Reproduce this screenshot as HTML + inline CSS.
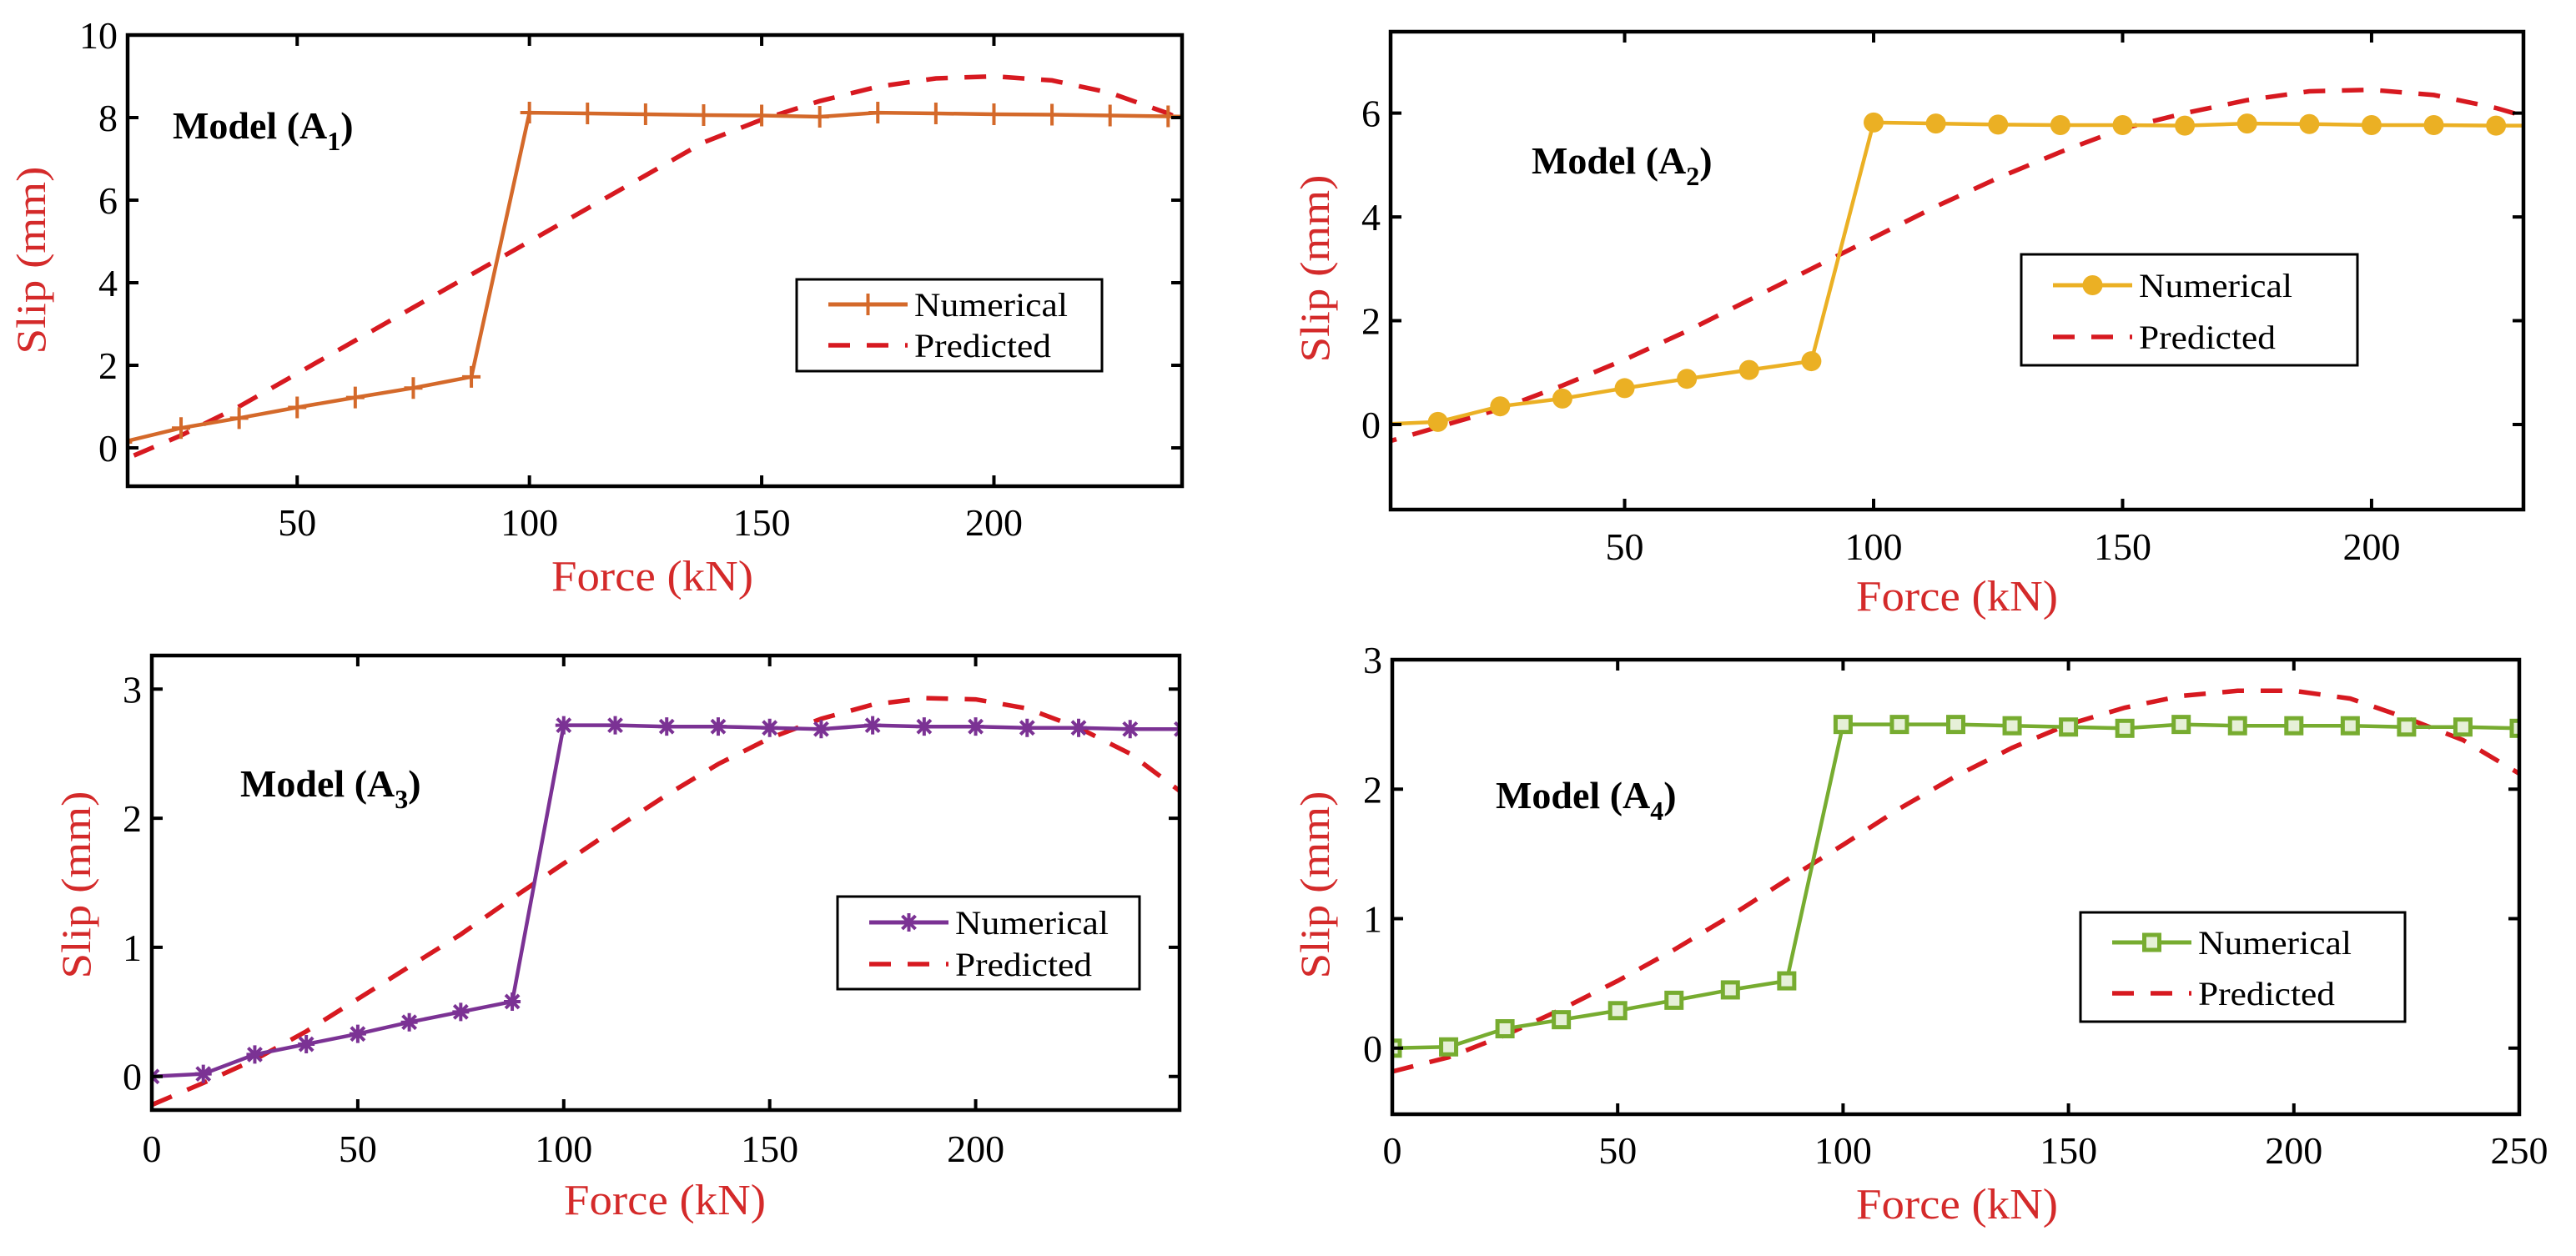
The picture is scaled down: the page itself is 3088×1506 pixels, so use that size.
<!DOCTYPE html>
<html><head><meta charset="utf-8"><style>
html,body{margin:0;padding:0;background:#fff;}
svg{display:block;}
text{font-family:"Liberation Serif",serif;}
</style></head><body>
<svg id="chart" width="3088" height="1506" viewBox="0 0 3088 1506" xmlns="http://www.w3.org/2000/svg">
<rect width="3088" height="1506" fill="#fff"/>
</svg>
<script>
const forceX = [0,12.5,25,37.5,50,62.5,75,87.5,100,112.5,125,137.5,150,162.5,175,187.5,200,212.5,225,237.5,250];
const a1Numerical = [null,0.14,0.48,0.72,0.98,1.22,1.45,1.72,8.12,8.10,8.08,8.06,8.05,8.02,8.12,8.10,8.08,8.07,8.05,8.03,8.00];
const a1Predicted = [-1.0,-0.3,0.3,1.0,1.8,2.6,3.4,4.2,5.0,5.8,6.6,7.4,7.95,8.4,8.75,8.95,9.0,8.9,8.6,8.1,7.4];
const a2Numerical = [0,0.05,0.35,0.5,0.7,0.88,1.05,1.22,5.82,5.8,5.78,5.77,5.77,5.76,5.8,5.79,5.77,5.77,5.76,5.76,5.76];
const a2Predicted = [-0.4,-0.05,0.3,0.75,1.25,1.8,2.4,3.0,3.6,4.2,4.75,5.25,5.7,6.0,6.25,6.42,6.45,6.35,6.1,5.75,5.3];
const a3Numerical = [0,0.02,0.17,0.25,0.33,0.42,0.5,0.58,2.72,2.72,2.71,2.71,2.7,2.69,2.72,2.71,2.71,2.7,2.7,2.69,2.69];
const a3Predicted = [-0.22,-0.05,0.13,0.35,0.6,0.85,1.1,1.38,1.65,1.92,2.18,2.42,2.62,2.77,2.88,2.93,2.92,2.85,2.7,2.5,2.2];
const a4Numerical = [0,0.01,0.15,0.22,0.29,0.37,0.45,0.52,2.5,2.5,2.5,2.49,2.48,2.47,2.5,2.49,2.49,2.49,2.48,2.48,2.47];
const a4Predicted = [-0.18,-0.07,0.1,0.3,0.52,0.76,1.02,1.3,1.57,1.85,2.1,2.32,2.5,2.63,2.72,2.76,2.76,2.7,2.55,2.38,2.12];
const a1XTicks = [50,100,150,200];
const a1YTicks = [0,2,4,6,8,10];
const a2XTicks = [50,100,150,200];
const a2YTicks = [0,2,4,6];
const a3XTicks = [0,50,100,150,200];
const a3YTicks = [0,1,2,3];
const a4XTicks = [0,50,100,150,200,250];
const a4YTicks = [0,1,2,3];

const NS="http://www.w3.org/2000/svg";
const svg=document.getElementById('chart');
function el(tag,attrs,parent){const e=document.createElementNS(NS,tag);for(const k in attrs)e.setAttribute(k,attrs[k]);(parent||svg).appendChild(e);return e;}

const panels=[
 {id:'a1',sub:'1',L:153,R:1417,T:42,B:583,xmin:13.5,xmax:240.5,ymin:-0.93,ymax:10,xt:a1XTicks,yt:a1YTicks,num:a1Numerical,pred:a1Predicted,color:'#d4692a',marker:'plus',
  legend:{x1:955,x2:1321,y1:335,y2:445,ny:365,py:414},model:{x:207,y:166},ylab:{x:54,y:312},xlab:{x:782,y:708},tickY:642},
 {id:'a2',sub:'2',L:1667,R:3025,T:38,B:611,xmin:3,xmax:230.5,ymin:-1.64,ymax:7.57,xt:a2XTicks,yt:a2YTicks,num:a2Numerical,pred:a2Predicted,color:'#ebb024',marker:'circle',
  legend:{x1:2423,x2:2826,y1:305,y2:438,ny:342,py:404},model:{x:1836,y:208},ylab:{x:1593,y:322},xlab:{x:2346,y:732},tickY:671},
 {id:'a3',sub:'3',L:182,R:1414,T:786,B:1331,xmin:0,xmax:249.5,ymin:-0.26,ymax:3.26,xt:a3XTicks,yt:a3YTicks,num:a3Numerical,pred:a3Predicted,color:'#7b3294',marker:'star',
  legend:{x1:1004,x2:1366,y1:1075,y2:1186,ny:1106,py:1156},model:{x:288,y:955},ylab:{x:108,y:1061},xlab:{x:797,y:1456},tickY:1393},
 {id:'a4',sub:'4',L:1669,R:3020,T:791,B:1336,xmin:0,xmax:250,ymin:-0.51,ymax:3,xt:a4XTicks,yt:a4YTicks,num:a4Numerical,pred:a4Predicted,color:'#77ac30',marker:'square',
  legend:{x1:2494,x2:2883,y1:1094,y2:1225,ny:1130,py:1191},model:{x:1793,y:969},ylab:{x:1593,y:1061},xlab:{x:2346,y:1461},tickY:1395}
];

function drawMarker(g,type,x,y,c){
  if(type==='plus'){
    const m=el('path',{d:`M${x-11},${y}H${x+11}M${x},${y-13}V${y+13}`,stroke:c,'stroke-width':4,fill:'none'},g);
    
  }else if(type==='circle'){
    const m=el('circle',{cx:x,cy:y,r:12,fill:c},g);
    
  }else if(type==='star'){
    const m=el('path',{d:`M${x-10},${y}H${x+10}M${x},${y-11}V${y+11}M${x-8},${y-8}L${x+8},${y+8}M${x-8},${y+8}L${x+8},${y-8}`,stroke:c,'stroke-width':4,fill:'none'},g);
    
  }else{
    const m=el('rect',{x:x-9,y:y-9,width:18,height:18,fill:'#e6f0d8',stroke:c,'stroke-width':5},g);
    
  }
}

panels.forEach(p=>{
  const g=el('g',{});
  
  
  const sx=v=>p.L+(v-p.xmin)/(p.xmax-p.xmin)*(p.R-p.L);
  const sy=v=>p.B-(v-p.ymin)/(p.ymax-p.ymin)*(p.B-p.T);
  const clipId='clip-'+p.id;
  const cp=el('clipPath',{id:clipId},g);el('rect',{x:p.L,y:p.T,width:p.R-p.L,height:p.B-p.T},cp);
  const plot=el('g',{'clip-path':`url(#${clipId})`},g);
  
  
  let d='';p.pred.forEach((v,i)=>{d+=(i?'L':'M')+sx(forceX[i]).toFixed(1)+','+sy(v).toFixed(1);});
  const pl=el('path',{d:d,fill:'none',stroke:'#d71920','stroke-width':5.5,'stroke-dasharray':'26 20'},plot);
  
  
  let d2='';let first=true;p.num.forEach((v,i)=>{if(v===null)return;d2+=(first?'M':'L')+sx(forceX[i]).toFixed(1)+','+sy(v).toFixed(1);first=false;});
  const nl=el('path',{d:d2,fill:'none',stroke:p.color,'stroke-width':4.5,'stroke-linejoin':'round'},plot);
  
  
  p.num.forEach((v,i)=>{if(v===null)return;drawMarker(plot,p.marker,sx(forceX[i]),sy(v),p.color);});
  p.xt.forEach(t=>{const x=sx(t);
    el('path',{d:`M${x},${p.B}v-13M${x},${p.T}v13`,stroke:'#000','stroke-width':4},g);
    const s=String(t);
    const tl=el('text',{x:x,y:p.tickY,'font-size':46,'text-anchor':'middle',textLength:s.length*23,lengthAdjust:'spacingAndGlyphs'},g);tl.textContent=s;
    
    
  });
  p.yt.forEach(t=>{const y=sy(t);
    el('path',{d:`M${p.L},${y}h13M${p.R},${y}h-13`,stroke:'#000','stroke-width':4},g);
    const s=String(t);
    const tl=el('text',{x:p.L-12,y:y+16,'font-size':46,'text-anchor':'end',textLength:s.length*23,lengthAdjust:'spacingAndGlyphs'},g);tl.textContent=s;
    
    
  });
  const fr=el('rect',{x:p.L,y:p.T,width:p.R-p.L,height:p.B-p.T,fill:'none',stroke:'#000','stroke-width':4.5},g);
  
  
  const xl=el('text',{x:p.xlab.x,y:p.xlab.y,'font-size':52,'text-anchor':'middle',fill:'#d42a2a',textLength:242,lengthAdjust:'spacingAndGlyphs'},g);xl.textContent='Force (kN)';
  
  
  const yl=el('text',{x:p.ylab.x,y:p.ylab.y,'font-size':50,'text-anchor':'middle',fill:'#d42a2a',transform:`rotate(-90 ${p.ylab.x} ${p.ylab.y})`,'font-family':'Liberation Sans, sans-serif',textLength:225,lengthAdjust:'spacingAndGlyphs'},g);yl.textContent='Slip (mm)';
  
  
  const ml=el('text',{x:p.model.x,y:p.model.y,'font-size':46,'font-weight':'bold'},g);
  
  
  ml.appendChild(document.createTextNode('Model (A'));
  const ts=el('tspan',{'font-size':32,dy:14},ml);ts.textContent=p.sub;
  const ts2=el('tspan',{dy:-14},ml);ts2.textContent=')';
  const L=p.legend;
  const lg=el('g',{},g);
  
  
  el('rect',{x:L.x1,y:L.y1,width:L.x2-L.x1,height:L.y2-L.y1,fill:'#fff',stroke:'#000','stroke-width':3},lg);
  const lx1=L.x1+38,lx2=L.x1+133;
  el('line',{x1:lx1,y1:L.ny,x2:lx2,y2:L.ny,stroke:p.color,'stroke-width':5},lg);
  drawMarker(lg,p.marker,(lx1+lx2)/2,L.ny,p.color);
  const t1=el('text',{x:lx2+8,y:L.ny+14,'font-size':40,textLength:184,lengthAdjust:'spacingAndGlyphs'},lg);t1.textContent='Numerical';
  
  
  el('line',{x1:lx1,y1:L.py,x2:lx2,y2:L.py,stroke:'#d71920','stroke-width':5.5,'stroke-dasharray':'26 20'},lg);
  const t2=el('text',{x:lx2+8,y:L.py+14,'font-size':40,textLength:164,lengthAdjust:'spacingAndGlyphs'},lg);t2.textContent='Predicted';
  
  
});
</script>
</body></html>
